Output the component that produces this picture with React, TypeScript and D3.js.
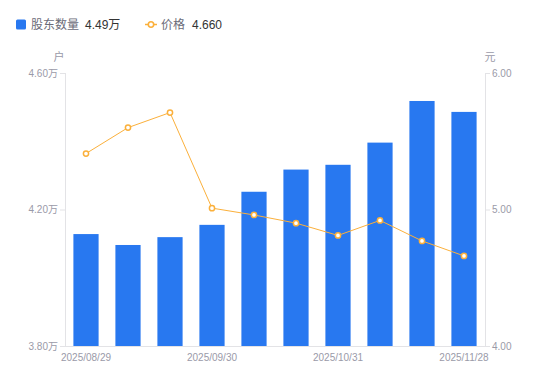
import React from "react";
import * as d3 from "d3";

const dates = ["2025/08/29", "2025/09/10", "2025/09/19", "2025/09/30", "2025/10/10", "2025/10/20", "2025/10/31", "2025/11/10", "2025/11/20", "2025/11/28"];
const holders = [4.128, 4.096, 4.119, 4.155, 4.252, 4.317, 4.331, 4.396, 4.518, 4.486];
const prices = [5.41, 5.6, 5.71, 5.01, 4.96, 4.9, 4.81, 4.92, 4.77, 4.66];
const leftTicks = [3.8, 4.2, 4.6];
const rightTicks = [4, 5, 6];
const shownLabels = [0, 3, 6, 9];

const W = 550, H = 381;
const L = 65, R = 485, T = 73, B = 346;
const font = "'Liberation Sans', 'Noto Sans CJK SC', sans-serif";

export default function App() {
  const x = d3.scaleBand<string>().domain(dates).range([L, R]).paddingInner(0.4).paddingOuter(0.2);
  const xc = (d: string) => (x(d) as number) + x.bandwidth() / 2;
  const yL = d3.scaleLinear().domain([3.8, 4.6]).range([B, T]);
  const yR = d3.scaleLinear().domain([4, 6]).range([B, T]);
  const line = d3.line<number>().x((_, i) => xc(dates[i])).y((d) => yR(d));
  const axisColor = "#e3e3e6";
  const labelColor = "#9a9aa8";
  const orange = "#fbb03b";
  const blue = "#2878f0";
  return (
    <svg width={W} height={H} style={{ position: "absolute", left: 0, top: 0, fontFamily: font }}>
      {/* legend */}
      <rect x={16} y={19.5} width={10} height={10} rx={1.5} fill={blue} />
      <text x={31} y={29} fontSize={12} fill="#6b6b78">股东数量</text>
      <text x={85} y={29} fontSize={12} fill="#333">{holders[holders.length - 1].toFixed(2)}万</text>
      <line x1={145} x2={157} y1={24.5} y2={24.5} stroke={orange} strokeWidth={1.5} />
      <circle cx={151} cy={24.5} r={2.7} fill="#fff" stroke={orange} strokeWidth={1.6} />
      <text x={161} y={29} fontSize={12} fill="#6b6b78">价格</text>
      <text x={192} y={29} fontSize={12} fill="#333">{prices[prices.length - 1].toFixed(3)}</text>

      {/* unit labels */}
      <text x={59} y={61} fontSize={11} fill={labelColor} textAnchor="middle">户</text>
      <text x={490} y={61} fontSize={11} fill={labelColor} textAnchor="middle">元</text>

      {/* axes */}
      <line x1={L + 0.5} x2={L + 0.5} y1={T} y2={B} stroke={axisColor} />
      <line x1={R + 0.5} x2={R + 0.5} y1={T} y2={B} stroke={axisColor} />
      <line x1={L} x2={R} y1={B + 0.5} y2={B + 0.5} stroke={axisColor} />
      {leftTicks.map((t) => (
        <g key={"l" + t}>
          <line x1={L - 5} x2={L} y1={yL(t) + 0.5} y2={yL(t) + 0.5} stroke={axisColor} />
          <text x={L - 7} y={yL(t) + 3.5} fontSize={10} fill={labelColor} textAnchor="end">{t.toFixed(2)}万</text>
        </g>
      ))}
      {rightTicks.map((t) => (
        <g key={"r" + t}>
          <line x1={R} x2={R + 5} y1={yR(t) + 0.5} y2={yR(t) + 0.5} stroke={axisColor} />
          <text x={R + 7} y={yR(t) + 3.5} fontSize={10} fill={labelColor}>{t.toFixed(2)}</text>
        </g>
      ))}
      {shownLabels.map((i) => (
        <text key={"x" + i} x={xc(dates[i])} y={361} fontSize={10} fill={labelColor} textAnchor="middle">{dates[i]}</text>
      ))}

      {/* bars */}
      {holders.map((v, i) => (
        <rect key={"b" + i} x={x(dates[i])} y={yL(v)} width={x.bandwidth()} height={B - yL(v)} fill={blue} />
      ))}

      {/* price line */}
      <path d={line(prices) || ""} fill="none" stroke={orange} strokeWidth={1} />
      {prices.map((v, i) => (
        <circle key={"p" + i} cx={xc(dates[i])} cy={yR(v)} r={2.6} fill="#fff" stroke={orange} strokeWidth={1.5} />
      ))}
    </svg>
  );
}
